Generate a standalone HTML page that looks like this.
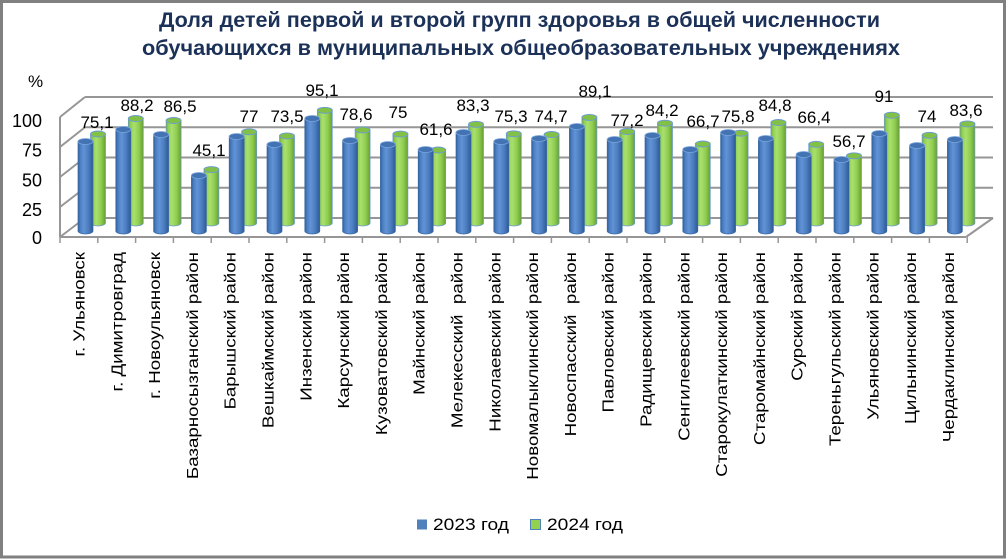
<!DOCTYPE html>
<html><head><meta charset="utf-8">
<style>
html,body{margin:0;padding:0;background:#fff;}
svg{display:block;}
.t{font-family:"Liberation Sans","Noto Sans CJK SC",sans-serif;}
.dl{font-family:"Liberation Sans",sans-serif;font-size:17px;fill:#000;text-anchor:middle;}
.yl{font-family:"Liberation Sans",sans-serif;font-size:18px;fill:#000;text-anchor:end;}
.cl{font-family:"Liberation Sans",sans-serif;font-size:15.5px;fill:#000;text-anchor:end;white-space:pre;}
.g{stroke:#969696;stroke-width:2;fill:none;}
.bb{fill:url(#gb);stroke:#3a6aa6;stroke-width:0.7;}
.bt{fill:#4373b2;stroke:#7aa5dc;stroke-width:0.8;}
.gb{fill:url(#gg);stroke:#6b9bd4;stroke-width:0.7;}
.gt{fill:#82c046;stroke:#6b9bd4;stroke-width:0.9;}
</style></head>
<body>
<svg width="1008" height="560" viewBox="0 0 1008 560" xmlns="http://www.w3.org/2000/svg">
<defs>
<linearGradient id="gb" x1="0" y1="0" x2="1" y2="0">
<stop offset="0" stop-color="#305f9b"/><stop offset="0.15" stop-color="#4b7ec2"/><stop offset="0.38" stop-color="#6193d6"/><stop offset="0.7" stop-color="#4b7cbf"/><stop offset="1" stop-color="#2e5a95"/>
</linearGradient>
<linearGradient id="gg" x1="0" y1="0" x2="1" y2="0">
<stop offset="0" stop-color="#70aa3e"/><stop offset="0.15" stop-color="#90cf52"/><stop offset="0.38" stop-color="#a9e06e"/><stop offset="0.7" stop-color="#8fcd50"/><stop offset="1" stop-color="#689f33"/>
</linearGradient>
</defs>
<rect x="1.5" y="1.5" width="1003" height="555.5" fill="#fff" stroke="#808080" stroke-width="3"/>

<!-- title -->
<text class="t" x="159" y="27" font-size="21" font-weight="bold" fill="#1b3158" textLength="721" lengthAdjust="spacingAndGlyphs">Доля детей первой и второй групп здоровья в общей численности</text>
<text class="t" x="142" y="55" font-size="21" font-weight="bold" fill="#1b3158" textLength="758" lengthAdjust="spacingAndGlyphs">обучающихся в муниципальных общеобразовательных учреждениях</text>

<text class="t" x="28" y="87" font-size="17" fill="#000">%</text>

<!-- walls / grid -->
<g class="g">
<line x1="85" y1="97" x2="993" y2="97"/>
<line x1="85" y1="127.25" x2="993" y2="127.25"/>
<line x1="85" y1="157.5" x2="993" y2="157.5"/>
<line x1="85" y1="187.75" x2="993" y2="187.75"/>
<line x1="85" y1="218" x2="993" y2="218"/>
<line x1="60" y1="117" x2="85" y2="97"/>
<line x1="60" y1="147" x2="85" y2="127.25"/>
<line x1="60" y1="177" x2="85" y2="157.5"/>
<line x1="60" y1="207" x2="85" y2="187.75"/>
<line x1="60" y1="237" x2="85" y2="218"/>
<line x1="60" y1="117" x2="60" y2="237"/>
<line x1="60" y1="237" x2="966" y2="237"/>
<line x1="966" y1="237" x2="993" y2="218"/>
</g>
<g stroke="#969696" stroke-width="1.5">
<line x1="60" y1="237" x2="60" y2="243"/><line x1="97.8" y1="237" x2="97.8" y2="243"/><line x1="135.6" y1="237" x2="135.6" y2="243"/><line x1="173.4" y1="237" x2="173.4" y2="243"/><line x1="211.2" y1="237" x2="211.2" y2="243"/><line x1="249" y1="237" x2="249" y2="243"/><line x1="286.8" y1="237" x2="286.8" y2="243"/><line x1="324.6" y1="237" x2="324.6" y2="243"/><line x1="362.4" y1="237" x2="362.4" y2="243"/><line x1="400.2" y1="237" x2="400.2" y2="243"/><line x1="438" y1="237" x2="438" y2="243"/><line x1="475.8" y1="237" x2="475.8" y2="243"/><line x1="513.6" y1="237" x2="513.6" y2="243"/><line x1="551.4" y1="237" x2="551.4" y2="243"/><line x1="589.2" y1="237" x2="589.2" y2="243"/><line x1="627" y1="237" x2="627" y2="243"/><line x1="664.8" y1="237" x2="664.8" y2="243"/><line x1="702.6" y1="237" x2="702.6" y2="243"/><line x1="740.4" y1="237" x2="740.4" y2="243"/><line x1="778.2" y1="237" x2="778.2" y2="243"/><line x1="816" y1="237" x2="816" y2="243"/><line x1="853.8" y1="237" x2="853.8" y2="243"/><line x1="891.6" y1="237" x2="891.6" y2="243"/><line x1="929.4" y1="237" x2="929.4" y2="243"/><line x1="967.2" y1="237" x2="967.2" y2="243"/>
</g>

<!-- y labels -->
<text class="yl" x="42" y="127">100</text>
<text class="yl" x="42" y="156.5">75</text>
<text class="yl" x="42" y="186.5">50</text>
<text class="yl" x="42" y="216">25</text>
<text class="yl" x="42" y="244">0</text>

<!-- bars -->
<g>
<path class="gb" d="M90.5,134 V223 A7.5 3 0 0 0 105.5,223 V134 Z"/><ellipse class="gt" cx="98" cy="134" rx="7.5" ry="3"/>
<path class="bb" d="M78,141.5 V231 A7.5 3 0 0 0 93,231 V141.5 Z"/><ellipse class="bt" cx="85.5" cy="141.5" rx="7.5" ry="3"/>

<path class="gb" d="M128.3,118.5 V223 A7.5 3 0 0 0 143.3,223 V118.5 Z"/><ellipse class="gt" cx="135.8" cy="118.5" rx="7.5" ry="3"/>
<path class="bb" d="M115.8,129.5 V231 A7.5 3 0 0 0 130.8,231 V129.5 Z"/><ellipse class="bt" cx="123.3" cy="129.5" rx="7.5" ry="3"/>

<path class="gb" d="M166.1,120.5 V223 A7.5 3 0 0 0 181.1,223 V120.5 Z"/><ellipse class="gt" cx="173.6" cy="120.5" rx="7.5" ry="3"/>
<path class="bb" d="M153.6,134.5 V231 A7.5 3 0 0 0 168.6,231 V134.5 Z"/><ellipse class="bt" cx="161.1" cy="134.5" rx="7.5" ry="3"/>

<path class="gb" d="M203.9,169.6 V223 A7.5 3 0 0 0 218.9,223 V169.6 Z"/><ellipse class="gt" cx="211.4" cy="169.6" rx="7.5" ry="3"/>
<path class="bb" d="M191.4,175.5 V231 A7.5 3 0 0 0 206.4,231 V175.5 Z"/><ellipse class="bt" cx="198.9" cy="175.5" rx="7.5" ry="3"/>

<path class="gb" d="M241.7,131.8 V223 A7.5 3 0 0 0 256.7,223 V131.8 Z"/><ellipse class="gt" cx="249.2" cy="131.8" rx="7.5" ry="3"/>
<path class="bb" d="M229.2,136.5 V231 A7.5 3 0 0 0 244.2,231 V136.5 Z"/><ellipse class="bt" cx="236.7" cy="136.5" rx="7.5" ry="3"/>

<path class="gb" d="M279.5,135.9 V223 A7.5 3 0 0 0 294.5,223 V135.9 Z"/><ellipse class="gt" cx="287" cy="135.9" rx="7.5" ry="3"/>
<path class="bb" d="M267,144.5 V231 A7.5 3 0 0 0 282,231 V144.5 Z"/><ellipse class="bt" cx="274.5" cy="144.5" rx="7.5" ry="3"/>

<path class="gb" d="M317.3,110.3 V223 A7.5 3 0 0 0 332.3,223 V110.3 Z"/><ellipse class="gt" cx="324.8" cy="110.3" rx="7.5" ry="3"/>
<path class="bb" d="M304.8,118.5 V231 A7.5 3 0 0 0 319.8,231 V118.5 Z"/><ellipse class="bt" cx="312.3" cy="118.5" rx="7.5" ry="3"/>

<path class="gb" d="M355.1,129.9 V223 A7.5 3 0 0 0 370.1,223 V129.9 Z"/><ellipse class="gt" cx="362.6" cy="129.9" rx="7.5" ry="3"/>
<path class="bb" d="M342.6,140.5 V231 A7.5 3 0 0 0 357.6,231 V140.5 Z"/><ellipse class="bt" cx="350.1" cy="140.5" rx="7.5" ry="3"/>

<path class="gb" d="M392.9,134.1 V223 A7.5 3 0 0 0 407.9,223 V134.1 Z"/><ellipse class="gt" cx="400.4" cy="134.1" rx="7.5" ry="3"/>
<path class="bb" d="M380.4,144.5 V231 A7.5 3 0 0 0 395.4,231 V144.5 Z"/><ellipse class="bt" cx="387.9" cy="144.5" rx="7.5" ry="3"/>

<path class="gb" d="M430.7,150 V223 A7.5 3 0 0 0 445.7,223 V150 Z"/><ellipse class="gt" cx="438.2" cy="150" rx="7.5" ry="3"/>
<path class="bb" d="M418.2,149.5 V231 A7.5 3 0 0 0 433.2,231 V149.5 Z"/><ellipse class="bt" cx="425.7" cy="149.5" rx="7.5" ry="3"/>

<path class="gb" d="M468.5,124.3 V223 A7.5 3 0 0 0 483.5,223 V124.3 Z"/><ellipse class="gt" cx="476" cy="124.3" rx="7.5" ry="3"/>
<path class="bb" d="M456,132.5 V231 A7.5 3 0 0 0 471,231 V132.5 Z"/><ellipse class="bt" cx="463.5" cy="132.5" rx="7.5" ry="3"/>

<path class="gb" d="M506.3,133.8 V223 A7.5 3 0 0 0 521.3,223 V133.8 Z"/><ellipse class="gt" cx="513.8" cy="133.8" rx="7.5" ry="3"/>
<path class="bb" d="M493.8,141.5 V231 A7.5 3 0 0 0 508.8,231 V141.5 Z"/><ellipse class="bt" cx="501.3" cy="141.5" rx="7.5" ry="3"/>

<path class="gb" d="M544.1,134.5 V223 A7.5 3 0 0 0 559.1,223 V134.5 Z"/><ellipse class="gt" cx="551.6" cy="134.5" rx="7.5" ry="3"/>
<path class="bb" d="M531.6,138.5 V231 A7.5 3 0 0 0 546.6,231 V138.5 Z"/><ellipse class="bt" cx="539.1" cy="138.5" rx="7.5" ry="3"/>

<path class="gb" d="M581.9,117.4 V223 A7.5 3 0 0 0 596.9,223 V117.4 Z"/><ellipse class="gt" cx="589.4" cy="117.4" rx="7.5" ry="3"/>
<path class="bb" d="M569.4,126.5 V231 A7.5 3 0 0 0 584.4,231 V126.5 Z"/><ellipse class="bt" cx="576.9" cy="126.5" rx="7.5" ry="3"/>

<path class="gb" d="M619.7,131.5 V223 A7.5 3 0 0 0 634.7,223 V131.5 Z"/><ellipse class="gt" cx="627.2" cy="131.5" rx="7.5" ry="3"/>
<path class="bb" d="M607.2,139.5 V231 A7.5 3 0 0 0 622.2,231 V139.5 Z"/><ellipse class="bt" cx="614.7" cy="139.5" rx="7.5" ry="3"/>

<path class="gb" d="M657.5,123.2 V223 A7.5 3 0 0 0 672.5,223 V123.2 Z"/><ellipse class="gt" cx="665" cy="123.2" rx="7.5" ry="3"/>
<path class="bb" d="M645,135.5 V231 A7.5 3 0 0 0 660,231 V135.5 Z"/><ellipse class="bt" cx="652.5" cy="135.5" rx="7.5" ry="3"/>

<path class="gb" d="M695.3,144 V223 A7.5 3 0 0 0 710.3,223 V144 Z"/><ellipse class="gt" cx="702.8" cy="144" rx="7.5" ry="3"/>
<path class="bb" d="M682.8,149.5 V231 A7.5 3 0 0 0 697.8,231 V149.5 Z"/><ellipse class="bt" cx="690.3" cy="149.5" rx="7.5" ry="3"/>

<path class="gb" d="M733.1,133.2 V223 A7.5 3 0 0 0 748.1,223 V133.2 Z"/><ellipse class="gt" cx="740.6" cy="133.2" rx="7.5" ry="3"/>
<path class="bb" d="M720.6,132.5 V231 A7.5 3 0 0 0 735.6,231 V132.5 Z"/><ellipse class="bt" cx="728.1" cy="132.5" rx="7.5" ry="3"/>

<path class="gb" d="M770.9,122.5 V223 A7.5 3 0 0 0 785.9,223 V122.5 Z"/><ellipse class="gt" cx="778.4" cy="122.5" rx="7.5" ry="3"/>
<path class="bb" d="M758.4,138.5 V231 A7.5 3 0 0 0 773.4,231 V138.5 Z"/><ellipse class="bt" cx="765.9" cy="138.5" rx="7.5" ry="3"/>

<path class="gb" d="M808.7,144.3 V223 A7.5 3 0 0 0 823.7,223 V144.3 Z"/><ellipse class="gt" cx="816.2" cy="144.3" rx="7.5" ry="3"/>
<path class="bb" d="M796.2,154.5 V231 A7.5 3 0 0 0 811.2,231 V154.5 Z"/><ellipse class="bt" cx="803.7" cy="154.5" rx="7.5" ry="3"/>

<path class="gb" d="M846.5,155.8 V223 A7.5 3 0 0 0 861.5,223 V155.8 Z"/><ellipse class="gt" cx="854" cy="155.8" rx="7.5" ry="3"/>
<path class="bb" d="M834,159.5 V231 A7.5 3 0 0 0 849,231 V159.5 Z"/><ellipse class="bt" cx="841.5" cy="159.5" rx="7.5" ry="3"/>

<path class="gb" d="M884.3,115.2 V223 A7.5 3 0 0 0 899.3,223 V115.2 Z"/><ellipse class="gt" cx="891.8" cy="115.2" rx="7.5" ry="3"/>
<path class="bb" d="M871.8,133.5 V231 A7.5 3 0 0 0 886.8,231 V133.5 Z"/><ellipse class="bt" cx="879.3" cy="133.5" rx="7.5" ry="3"/>

<path class="gb" d="M922.1,135.3 V223 A7.5 3 0 0 0 937.1,223 V135.3 Z"/><ellipse class="gt" cx="929.6" cy="135.3" rx="7.5" ry="3"/>
<path class="bb" d="M909.6,145.5 V231 A7.5 3 0 0 0 924.6,231 V145.5 Z"/><ellipse class="bt" cx="917.1" cy="145.5" rx="7.5" ry="3"/>

<path class="gb" d="M959.9,123.9 V223 A7.5 3 0 0 0 974.9,223 V123.9 Z"/><ellipse class="gt" cx="967.4" cy="123.9" rx="7.5" ry="3"/>
<path class="bb" d="M947.4,139.5 V231 A7.5 3 0 0 0 962.4,231 V139.5 Z"/><ellipse class="bt" cx="954.9" cy="139.5" rx="7.5" ry="3"/>
</g>

<!-- data labels -->
<text class="dl" x="97" y="128">75,1</text>
<text class="dl" x="137" y="111">88,2</text>
<text class="dl" x="180" y="112">86,5</text>
<text class="dl" x="209" y="156">45,1</text>
<text class="dl" x="249" y="122">77</text>
<text class="dl" x="287" y="122">73,5</text>
<text class="dl" x="322" y="96">95,1</text>
<text class="dl" x="356" y="120">78,6</text>
<text class="dl" x="398" y="118">75</text>
<text class="dl" x="436" y="135">61,6</text>
<text class="dl" x="473" y="111">83,3</text>
<text class="dl" x="511" y="122">75,3</text>
<text class="dl" x="551" y="122">74,7</text>
<text class="dl" x="595" y="97">89,1</text>
<text class="dl" x="627" y="126">77,2</text>
<text class="dl" x="662" y="116">84,2</text>
<text class="dl" x="703" y="127">66,7</text>
<text class="dl" x="738" y="122">75,8</text>
<text class="dl" x="775" y="111">84,8</text>
<text class="dl" x="814" y="123">66,4</text>
<text class="dl" x="849" y="147">56,7</text>
<text class="dl" x="884" y="102">91</text>
<text class="dl" x="927" y="122">74</text>
<text class="dl" x="966" y="116">83,6</text>

<!-- category labels -->
<text class="cl" transform="translate(84.5,252) rotate(-90) scale(1.21,1)">г. Ульяновск</text>
<text class="cl" transform="translate(122.3,252) rotate(-90) scale(1.21,1)">г. Димитровград</text>
<text class="cl" transform="translate(160.1,252) rotate(-90) scale(1.21,1)">г. Новоульяновск</text>
<text class="cl" transform="translate(197.9,252) rotate(-90) scale(1.21,1)">Базарносызганский район</text>
<text class="cl" transform="translate(235.7,252) rotate(-90) scale(1.21,1)">Барышский район</text>
<text class="cl" transform="translate(273.5,252) rotate(-90) scale(1.21,1)">Вешкаймский район</text>
<text class="cl" transform="translate(311.3,252) rotate(-90) scale(1.21,1)">Инзенский район</text>
<text class="cl" transform="translate(349.1,252) rotate(-90) scale(1.21,1)">Карсунский район</text>
<text class="cl" transform="translate(386.9,252) rotate(-90) scale(1.21,1)">Кузоватовский район</text>
<text class="cl" transform="translate(424.7,252) rotate(-90) scale(1.21,1)">Майнский район</text>
<text class="cl" transform="translate(462.5,252) rotate(-90) scale(1.21,1)">Мелекесский  район</text>
<text class="cl" transform="translate(500.3,252) rotate(-90) scale(1.21,1)">Николаевский район</text>
<text class="cl" transform="translate(538.1,252) rotate(-90) scale(1.21,1)">Новомалыклинский район</text>
<text class="cl" transform="translate(575.9,252) rotate(-90) scale(1.21,1)">Новоспасский  район</text>
<text class="cl" transform="translate(613.7,252) rotate(-90) scale(1.21,1)">Павловский район</text>
<text class="cl" transform="translate(651.5,252) rotate(-90) scale(1.21,1)">Радищевский район</text>
<text class="cl" transform="translate(689.3,252) rotate(-90) scale(1.21,1)">Сенгилеевский район</text>
<text class="cl" transform="translate(727.1,252) rotate(-90) scale(1.21,1)">Старокулаткинский район</text>
<text class="cl" transform="translate(764.9,252) rotate(-90) scale(1.21,1)">Старомайнский район</text>
<text class="cl" transform="translate(802.7,252) rotate(-90) scale(1.21,1)">Сурский район</text>
<text class="cl" transform="translate(840.5,252) rotate(-90) scale(1.21,1)">Тереньгульский район</text>
<text class="cl" transform="translate(878.3,252) rotate(-90) scale(1.21,1)">Ульяновский район</text>
<text class="cl" transform="translate(916.1,252) rotate(-90) scale(1.21,1)">Цильнинский район</text>
<text class="cl" transform="translate(953.9,252) rotate(-90) scale(1.21,1)">Чердаклинский район</text>

<!-- legend -->
<rect x="417" y="519.5" width="10" height="10" fill="#4f81bd"/>
<text class="t" x="433" y="530" font-size="17" fill="#000" textLength="76" lengthAdjust="spacingAndGlyphs">2023 год</text>
<rect x="530.5" y="519.5" width="10" height="10" fill="#92d050" stroke="#4f81bd" stroke-width="1"/>
<text class="t" x="547" y="530" font-size="17" fill="#000" textLength="76" lengthAdjust="spacingAndGlyphs">2024 год</text>
</svg>
</body></html>
